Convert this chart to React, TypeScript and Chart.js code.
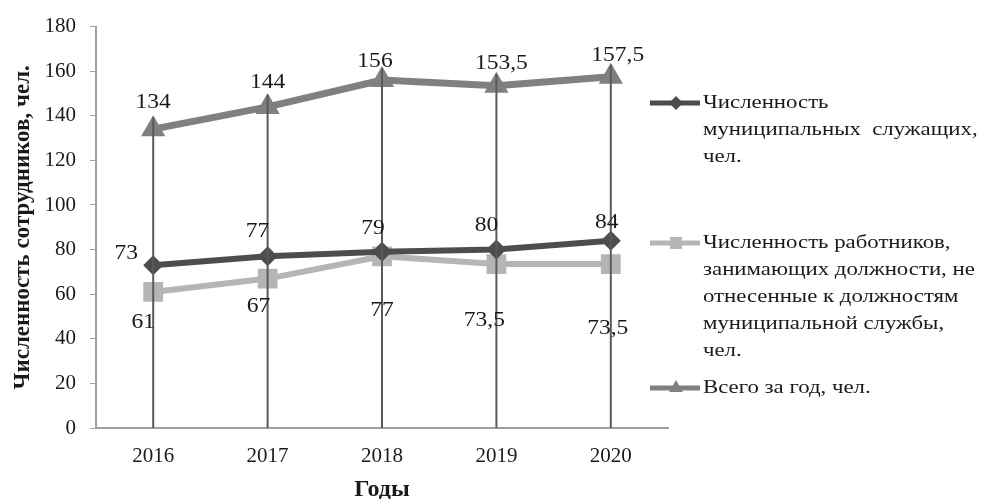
import React, { useEffect, useRef } from "react";
import { Chart, registerables } from "chart.js";

Chart.register(...registerables);

const years = ["2016", "2017", "2018", "2019", "2020"];
const municipalEmployees = [73, 77, 79, 80, 84];
const otherEmployees = [61, 67, 77, 73.5, 73.5];
const totalEmployees = [134, 144, 156, 153.5, 157.5];
const yMin = 0;
const yMax = 180;
const yStep = 20;

const seriesNames = [
  ["Численность", "муниципальных  служащих,", "чел."],
  ["Численность работников,", "занимающих должности, не", "отнесенные к должностям", "муниципальной службы,", "чел."],
  ["Всего за год, чел."],
];

// label offsets relative to points (style only)
const labelOffsets = [
  [[-27, -12], [-10, -25], [-9, -23], [-10, -24], [-4, -18]],
  [[-10, 31], [-9, 28], [0, 54], [-12, 56], [-3, 64]],
  [[0, -27], [0, -24], [-7, -19], [5, -22], [7, -21]],
];

const COLORS = ["#4d4d4d", "#b5b5b5", "#808080"];
const FONT = "'Liberation Serif', 'Times New Roman', serif";

const fmt = (v: number) => String(v).replace(".", ",");

function stretchText(ctx: CanvasRenderingContext2D, text: string, x: number, y: number, sx: number) {
  ctx.save();
  ctx.translate(x, y);
  ctx.scale(sx, 1);
  ctx.fillText(text, 0, 0);
  ctx.restore();
}

function drawMarker(ctx: CanvasRenderingContext2D, style: string, r: number, x: number, y: number) {
  ctx.beginPath();
  if (style === "rectRot") {
    ctx.moveTo(x, y - r);
    ctx.lineTo(x + r, y);
    ctx.lineTo(x, y + r);
    ctx.lineTo(x - r, y);
  } else if (style === "rect") {
    const s = r * 0.75;
    ctx.rect(x - s, y - s, 2 * s, 2 * s);
  } else {
    ctx.moveTo(x, y - r);
    ctx.lineTo(x + r * 0.87, y + r * 0.5);
    ctx.lineTo(x - r * 0.87, y + r * 0.5);
  }
  ctx.closePath();
  ctx.fill();
}

export default function App() {
  const ref = useRef<HTMLCanvasElement | null>(null);

  useEffect(() => {
    const canvas = ref.current!;
    const dropLines = {
      id: "dropLines",
      afterDatasetsDraw(chart: any) {
        const ctx = chart.ctx;
        const meta = chart.getDatasetMeta(2);
        const bottom = chart.scales.y.getPixelForValue(0);
        ctx.save();
        ctx.strokeStyle = "#5a5a5a";
        ctx.lineWidth = 2;
        meta.data.forEach((pt: any) => {
          ctx.beginPath();
          ctx.moveTo(pt.x, pt.y - 12);
          ctx.lineTo(pt.x, bottom);
          ctx.stroke();
        });
        ctx.restore();
      },
    };
    const dataLabels = {
      id: "dataLabels",
      afterDraw(chart: any) {
        const ctx = chart.ctx;
        ctx.save();
        ctx.font = `21px ${FONT}`;
        ctx.fillStyle = "#1a1a1a";
        ctx.textAlign = "center";
        ctx.textBaseline = "middle";
        chart.data.datasets.forEach((ds: any, di: number) => {
          const meta = chart.getDatasetMeta(di);
          meta.data.forEach((pt: any, i: number) => {
            const [dx, dy] = labelOffsets[di][i];
            stretchText(ctx, fmt(ds.data[i]), pt.x + dx, pt.y + dy, 1.12);
          });
        });
        ctx.restore();
      },
    };
    const legendPlugin = {
      id: "customLegend",
      afterDraw(chart: any) {
        const ctx = chart.ctx;
        const starts = [103, 243, 388];
        const styles = ["rectRot", "rect", "triangle"];
        const radii = [7, 8, 8];
        ctx.save();
        seriesNames.forEach((lines, i) => {
          const y0 = starts[i];
          ctx.strokeStyle = COLORS[i];
          ctx.lineWidth = 5;
          ctx.beginPath();
          ctx.moveTo(650, y0);
          ctx.lineTo(700, y0);
          ctx.stroke();
          ctx.fillStyle = COLORS[i];
          drawMarker(ctx, styles[i], radii[i], 676, y0);
          ctx.font = `19px ${FONT}`;
          ctx.fillStyle = "#1a1a1a";
          ctx.textAlign = "left";
          ctx.textBaseline = "middle";
          lines.forEach((t, j) => stretchText(ctx, t, 703, y0 + j * 27, 1.2));
        });
        ctx.restore();
      },
    };

    const chart = new Chart(canvas, {
      type: "line",
      data: {
        labels: years,
        datasets: [
          {
            label: seriesNames[0].join(" "),
            data: municipalEmployees,
            borderColor: COLORS[0],
            backgroundColor: COLORS[0],
            borderWidth: 6,
            pointStyle: "rectRot",
            pointRadius: 10,
            pointBorderWidth: 0,
          },
          {
            label: seriesNames[1].join(" "),
            data: otherEmployees,
            borderColor: COLORS[1],
            backgroundColor: COLORS[1],
            borderWidth: 6,
            pointStyle: "rect",
            pointRadius: 14,
            pointBorderWidth: 0,
          },
          {
            label: seriesNames[2].join(" "),
            data: totalEmployees,
            borderColor: COLORS[2],
            backgroundColor: COLORS[2],
            borderWidth: 7,
            pointStyle: "triangle",
            pointRadius: 14,
            pointBorderWidth: 0,
          },
        ],
      },
      options: {
        responsive: false,
        animation: false,
        devicePixelRatio: 1,
        layout: { padding: { top: 26, right: 318, bottom: 0, left: 0 } },
        plugins: {
          legend: { display: false },
          tooltip: { enabled: false },
        },
        scales: {
          x: {
            offset: true,
            grid: { display: true, drawOnChartArea: false, drawTicks: false },
            border: { color: "#a0a0a0", width: 2 },
            ticks: {
              padding: 16,
              color: "#1a1a1a",
              font: { family: FONT, size: 21 },
            },
            title: {
              display: true,
              text: "Годы",
              color: "#1a1a1a",
              padding: { top: 0, bottom: 0 },
              font: { family: FONT, size: 24, weight: "bold", lineHeight: 0.8 },
            },
            afterFit(scale: any) {
              scale.height = 71;
            },
          },
          y: {
            min: yMin,
            max: yMax,
            ticks: {
              stepSize: yStep,
              padding: 14,
              color: "#1a1a1a",
              font: { family: FONT, size: 21 },
            },
            grid: { drawOnChartArea: false, drawTicks: true, tickLength: 6, color: "#a0a0a0" },
            border: { color: "#a0a0a0", width: 2 },
            title: {
              display: true,
              text: "Численность сотрудников, чел.",
              color: "#1a1a1a",
              padding: { top: 9, bottom: 0 },
              font: { family: FONT, size: 23, weight: "bold" },
            },
            afterFit(scale: any) {
              scale.width = 96;
            },
          },
        },
      },
      plugins: [dropLines, dataLabels, legendPlugin],
    } as any);
    return () => chart.destroy();
  }, []);

  return (
    <div style={{ position: "absolute", left: 0, top: 0, width: 986, height: 499, background: "#fff" }}>
      <canvas ref={ref} width={986} height={499} style={{ display: "block" }} />
    </div>
  );
}
